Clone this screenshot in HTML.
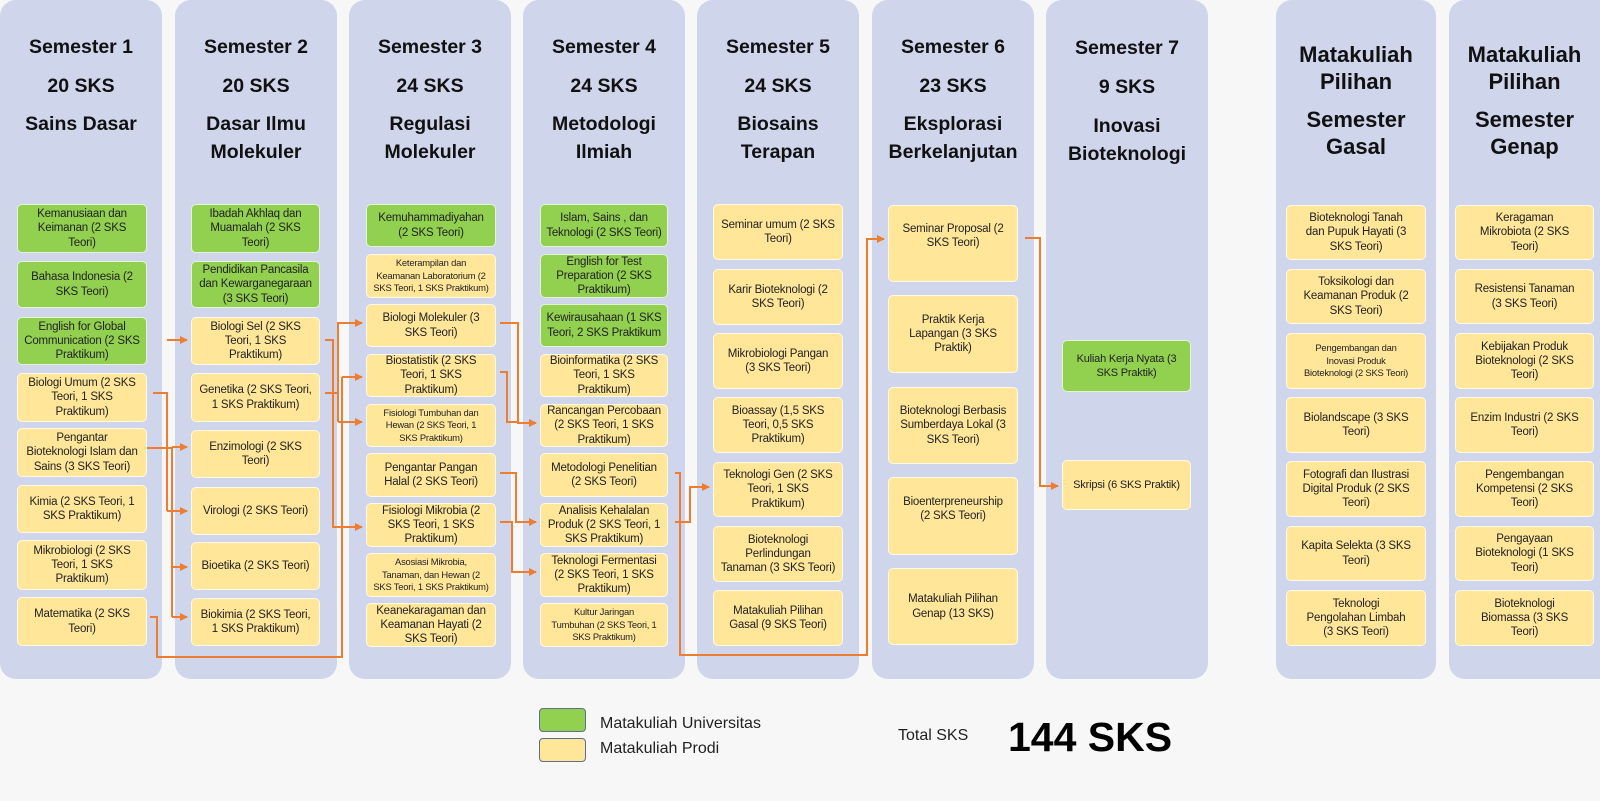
<!DOCTYPE html>
<html><head><meta charset="utf-8"><style>
body{margin:0;width:1600px;height:801px;background:#f7f7f7;position:relative;overflow:hidden;font-family:"Liberation Sans",sans-serif;}
.col{position:absolute;top:0;height:679px;background:#cfd5ea;border-radius:16px;}
.hd{position:absolute;left:0;width:100%;text-align:center;font-weight:bold;font-size:19.5px;color:#111;white-space:nowrap;line-height:28px;}
.b{position:absolute;display:flex;align-items:center;justify-content:center;text-align:center;font-size:11.5px;line-height:14.3px;color:#222;border-radius:5px;box-sizing:border-box;border:1.5px solid rgba(255,255,255,0.75);white-space:nowrap;letter-spacing:-0.2px}
.g{background:#92d050}.y{background:#ffe699}
.s{font-size:9.4px;line-height:12.5px;letter-spacing:-0.2px}
</style></head><body>
<div class="col" style="left:0;width:162px"><div class="hd" style="top:33px">Semester 1</div><div class="hd" style="top:72px">20 SKS</div><div class="hd" style="top:110px">Sains Dasar</div></div>
<div class="col" style="left:175px;width:162px"><div class="hd" style="top:33px">Semester 2</div><div class="hd" style="top:72px">20 SKS</div><div class="hd" style="top:110px">Dasar Ilmu<br>Molekuler</div></div>
<div class="col" style="left:349px;width:162px"><div class="hd" style="top:33px">Semester 3</div><div class="hd" style="top:72px">24 SKS</div><div class="hd" style="top:110px">Regulasi<br>Molekuler</div></div>
<div class="col" style="left:523px;width:162px"><div class="hd" style="top:33px">Semester 4</div><div class="hd" style="top:72px">24 SKS</div><div class="hd" style="top:110px">Metodologi<br>Ilmiah</div></div>
<div class="col" style="left:697px;width:162px"><div class="hd" style="top:33px">Semester 5</div><div class="hd" style="top:72px">24 SKS</div><div class="hd" style="top:110px">Biosains<br>Terapan</div></div>
<div class="col" style="left:872px;width:162px"><div class="hd" style="top:33px">Semester 6</div><div class="hd" style="top:72px">23 SKS</div><div class="hd" style="top:110px">Eksplorasi<br>Berkelanjutan</div></div>
<div class="col" style="left:1046px;width:162px"><div class="hd" style="top:34px">Semester 7</div><div class="hd" style="top:73px">9 SKS</div><div class="hd" style="top:112px">Inovasi<br>Bioteknologi</div></div>
<div class="col" style="left:1276px;width:160px"><div class="hd" style="top:41px;font-size:22px;line-height:27px">Matakuliah<br>Pilihan</div><div class="hd" style="top:106px;font-size:22px;line-height:27px">Semester<br>Gasal</div></div>
<div class="col" style="left:1449px;width:151px;border-radius:16px 0 0 16px"><div class="hd" style="top:41px;font-size:22px;line-height:27px">Matakuliah<br>Pilihan</div><div class="hd" style="top:106px;font-size:22px;line-height:27px">Semester<br>Genap</div></div>

<!-- col1 -->
<div class="b g" style="left:17px;top:204px;width:130px;height:49px">Kemanusiaan dan<br>Keimanan (2 SKS<br>Teori)</div>
<div class="b g" style="left:17px;top:261px;width:130px;height:47px">Bahasa Indonesia (2<br>SKS Teori)</div>
<div class="b g" style="left:17px;top:317px;width:130px;height:48px">English for Global<br>Communication (2 SKS<br>Praktikum)</div>
<div class="b y" style="left:17px;top:373px;width:130px;height:49px">Biologi Umum (2 SKS<br>Teori, 1 SKS<br>Praktikum)</div>
<div class="b y" style="left:17px;top:428px;width:130px;height:49px">Pengantar<br>Bioteknologi Islam dan<br>Sains (3 SKS Teori)</div>
<div class="b y" style="left:17px;top:485px;width:130px;height:48px">Kimia (2 SKS Teori, 1<br>SKS Praktikum)</div>
<div class="b y" style="left:17px;top:540px;width:130px;height:50px">Mikrobiologi (2 SKS<br>Teori, 1 SKS<br>Praktikum)</div>
<div class="b y" style="left:17px;top:597px;width:130px;height:49px">Matematika (2 SKS<br>Teori)</div>
<!-- col2 -->
<div class="b g" style="left:191px;top:204px;width:129px;height:49px">Ibadah Akhlaq dan<br>Muamalah (2 SKS<br>Teori)</div>
<div class="b g" style="left:191px;top:261px;width:129px;height:47px">Pendidikan Pancasila<br>dan Kewarganegaraan<br>(3 SKS Teori)</div>
<div class="b y" style="left:191px;top:317px;width:129px;height:48px">Biologi Sel (2 SKS<br>Teori, 1 SKS<br>Praktikum)</div>
<div class="b y" style="left:191px;top:373px;width:129px;height:49px">Genetika (2 SKS Teori,<br>1 SKS Praktikum)</div>
<div class="b y" style="left:191px;top:430px;width:129px;height:48px">Enzimologi (2 SKS<br>Teori)</div>
<div class="b y" style="left:191px;top:487px;width:129px;height:48px">Virologi (2 SKS Teori)</div>
<div class="b y" style="left:191px;top:542px;width:129px;height:48px">Bioetika (2 SKS Teori)</div>
<div class="b y" style="left:191px;top:598px;width:129px;height:48px">Biokimia (2 SKS Teori,<br>1 SKS Praktikum)</div>
<!-- col3 -->
<div class="b g" style="left:366px;top:204px;width:130px;height:43px">Kemuhammadiyahan<br>(2 SKS Teori)</div>
<div class="b y s" style="left:366px;top:254px;width:130px;height:44px">Keterampilan dan<br>Keamanan Laboratorium (2<br>SKS Teori, 1 SKS Praktikum)</div>
<div class="b y" style="left:366px;top:304px;width:130px;height:43px">Biologi Molekuler (3<br>SKS Teori)</div>
<div class="b y" style="left:366px;top:354px;width:130px;height:43px">Biostatistik (2 SKS<br>Teori, 1 SKS<br>Praktikum)</div>
<div class="b y s" style="left:366px;top:404px;width:130px;height:43px">Fisiologi Tumbuhan dan<br>Hewan (2 SKS Teori, 1<br>SKS Praktikum)</div>
<div class="b y" style="left:366px;top:453px;width:130px;height:44px">Pengantar Pangan<br>Halal (2 SKS Teori)</div>
<div class="b y" style="left:366px;top:503px;width:130px;height:44px">Fisiologi Mikrobia (2<br>SKS Teori, 1 SKS<br>Praktikum)</div>
<div class="b y s" style="left:366px;top:553px;width:130px;height:44px">Asosiasi Mikrobia,<br>Tanaman, dan Hewan (2<br>SKS Teori, 1 SKS Praktikum)</div>
<div class="b y" style="left:366px;top:603px;width:130px;height:44px">Keanekaragaman dan<br>Keamanan Hayati (2<br>SKS Teori)</div>
<!-- col4 -->
<div class="b g" style="left:540px;top:204px;width:128px;height:43px">Islam, Sains , dan<br>Teknologi (2 SKS Teori)</div>
<div class="b g" style="left:540px;top:254px;width:128px;height:44px">English for Test<br>Preparation (2 SKS<br>Praktikum)</div>
<div class="b g" style="left:540px;top:304px;width:128px;height:43px">Kewirausahaan (1 SKS<br>Teori, 2 SKS Praktikum</div>
<div class="b y" style="left:540px;top:354px;width:128px;height:43px">Bioinformatika (2 SKS<br>Teori, 1 SKS<br>Praktikum)</div>
<div class="b y" style="left:540px;top:404px;width:128px;height:43px">Rancangan Percobaan<br>(2 SKS Teori, 1 SKS<br>Praktikum)</div>
<div class="b y" style="left:540px;top:453px;width:128px;height:44px">Metodologi Penelitian<br>(2 SKS Teori)</div>
<div class="b y" style="left:540px;top:503px;width:128px;height:44px">Analisis Kehalalan<br>Produk (2 SKS Teori, 1<br>SKS Praktikum)</div>
<div class="b y" style="left:540px;top:553px;width:128px;height:44px">Teknologi Fermentasi<br>(2 SKS Teori, 1 SKS<br>Praktikum)</div>
<div class="b y s" style="left:540px;top:603px;width:128px;height:44px">Kultur Jaringan<br>Tumbuhan (2 SKS Teori, 1<br>SKS Praktikum)</div>
<!-- col5 -->
<div class="b y" style="left:713px;top:204px;width:130px;height:56px">Seminar umum (2 SKS<br>Teori)</div>
<div class="b y" style="left:713px;top:269px;width:130px;height:56px">Karir Bioteknologi (2<br>SKS Teori)</div>
<div class="b y" style="left:713px;top:333px;width:130px;height:56px">Mikrobiologi Pangan<br>(3 SKS Teori)</div>
<div class="b y" style="left:713px;top:397px;width:130px;height:56px">Bioassay (1,5 SKS<br>Teori, 0,5 SKS<br>Praktikum)</div>
<div class="b y" style="left:713px;top:462px;width:130px;height:55px">Teknologi Gen (2 SKS<br>Teori, 1 SKS<br>Praktikum)</div>
<div class="b y" style="left:713px;top:526px;width:130px;height:56px">Bioteknologi<br>Perlindungan<br>Tanaman (3 SKS Teori)</div>
<div class="b y" style="left:713px;top:590px;width:130px;height:56px">Matakuliah Pilihan<br>Gasal (9 SKS Teori)</div>
<!-- col6 -->
<div class="b y" style="left:888px;top:205px;width:130px;height:77px">Seminar Proposal (2<br>SKS Teori)<br>&nbsp;</div>
<div class="b y" style="left:888px;top:295px;width:130px;height:78px">Praktik Kerja<br>Lapangan (3 SKS<br>Praktik)</div>
<div class="b y" style="left:888px;top:387px;width:130px;height:77px">Bioteknologi Berbasis<br>Sumberdaya Lokal (3<br>SKS Teori)</div>
<div class="b y" style="left:888px;top:477px;width:130px;height:78px">Bioenterpreneurship<br>(2 SKS Teori)<br>&nbsp;</div>
<div class="b y" style="left:888px;top:568px;width:130px;height:77px">Matakuliah Pilihan<br>Genap (13 SKS)</div>
<!-- col7 -->
<div class="b g" style="left:1062px;top:340px;width:129px;height:52px;font-size:11px">Kuliah Kerja Nyata (3<br>SKS Praktik)</div>
<div class="b y" style="left:1062px;top:460px;width:129px;height:50px;font-size:11px">Skripsi (6 SKS Praktik)</div>
<!-- col8 -->
<div class="b y" style="left:1286px;top:205px;width:140px;height:55px">Bioteknologi Tanah<br>dan Pupuk Hayati (3<br>SKS Teori)</div>
<div class="b y" style="left:1286px;top:269px;width:140px;height:55px">Toksikologi dan<br>Keamanan Produk (2<br>SKS Teori)</div>
<div class="b y s" style="left:1286px;top:333px;width:140px;height:56px">Pengembangan dan<br>Inovasi Produk<br>Bioteknologi (2 SKS Teori)</div>
<div class="b y" style="left:1286px;top:397px;width:140px;height:56px">Biolandscape (3 SKS<br>Teori)</div>
<div class="b y" style="left:1286px;top:461px;width:140px;height:56px">Fotografi dan Ilustrasi<br>Digital Produk (2 SKS<br>Teori)</div>
<div class="b y" style="left:1286px;top:526px;width:140px;height:55px">Kapita Selekta (3 SKS<br>Teori)</div>
<div class="b y" style="left:1286px;top:590px;width:140px;height:56px">Teknologi<br>Pengolahan Limbah<br>(3 SKS Teori)</div>
<!-- col9 -->
<div class="b y" style="left:1455px;top:205px;width:139px;height:55px">Keragaman<br>Mikrobiota (2 SKS<br>Teori)</div>
<div class="b y" style="left:1455px;top:269px;width:139px;height:55px">Resistensi Tanaman<br>(3 SKS Teori)</div>
<div class="b y" style="left:1455px;top:333px;width:139px;height:56px">Kebijakan Produk<br>Bioteknologi (2 SKS<br>Teori)</div>
<div class="b y" style="left:1455px;top:397px;width:139px;height:56px">Enzim Industri (2 SKS<br>Teori)</div>
<div class="b y" style="left:1455px;top:461px;width:139px;height:56px">Pengembangan<br>Kompetensi (2 SKS<br>Teori)</div>
<div class="b y" style="left:1455px;top:526px;width:139px;height:55px">Pengayaan<br>Bioteknologi (1 SKS<br>Teori)</div>
<div class="b y" style="left:1455px;top:590px;width:139px;height:56px">Bioteknologi<br>Biomassa (3 SKS<br>Teori)</div>

<svg width="1600" height="801" style="position:absolute;left:0;top:0" fill="none" stroke="#ed7d31" stroke-width="2">
<defs><marker id="a" markerWidth="8" markerHeight="8" refX="7" refY="4" orient="auto" markerUnits="userSpaceOnUse"><path d="M0,0 L8,4 L0,8z" fill="#ed7d31" stroke="none"/></marker></defs>
<path d="M153,393 H167 V511"/><path d="M167,340 H187" marker-end="url(#a)"/><path d="M167,511 H187" marker-end="url(#a)"/>
<path d="M147,448 H172 V617"/><path d="M172,447 H187" marker-end="url(#a)"/><path d="M172,567 H187" marker-end="url(#a)"/><path d="M172,617 H187" marker-end="url(#a)"/>
<path d="M150,617 H157 V657 H342 V377"/>
<path d="M325,340 H333 V527 H362" marker-end="url(#a)"/>
<path d="M325,393 H338 V323 H362" marker-end="url(#a)"/>
<path d="M342,377 H362" marker-end="url(#a)"/><path d="M338,422 H362" marker-end="url(#a)"/><path d="M338,393 V422"/>
<path d="M500,323 H518 V423 H536" marker-end="url(#a)"/>
<path d="M500,372 H507 V422 H518"/>
<path d="M500,473 H516 V522 H536" marker-end="url(#a)"/>
<path d="M500,522 H512 V572 H536" marker-end="url(#a)"/>
<path d="M675,522 H690 V487 H709" marker-end="url(#a)"/>
<path d="M675,473 H680 V655 H867 V239 H884" marker-end="url(#a)"/>
<path d="M1025,238 H1040 V486 H1058" marker-end="url(#a)"/>
</svg>

<div style="position:absolute;left:539px;top:708px;width:47px;height:24px;background:#92d050;border:1.5px solid #5b6f8f;border-radius:4px;box-sizing:border-box"></div>
<div style="position:absolute;left:539px;top:738px;width:47px;height:24px;background:#ffe699;border:1.5px solid #5b6f8f;border-radius:4px;box-sizing:border-box"></div>
<div style="position:absolute;left:600px;top:715px;font-size:16px;color:#222;white-space:nowrap">Matakuliah Universitas</div>
<div style="position:absolute;left:600px;top:740px;font-size:16px;color:#222;white-space:nowrap">Matakuliah Prodi</div>
<div style="position:absolute;left:898px;top:727px;font-size:16px;color:#222;white-space:nowrap">Total SKS</div>
<div style="position:absolute;left:1008px;top:713px;font-size:41px;font-weight:bold;color:#000;white-space:nowrap;line-height:48px">144 SKS</div>
</body></html>
